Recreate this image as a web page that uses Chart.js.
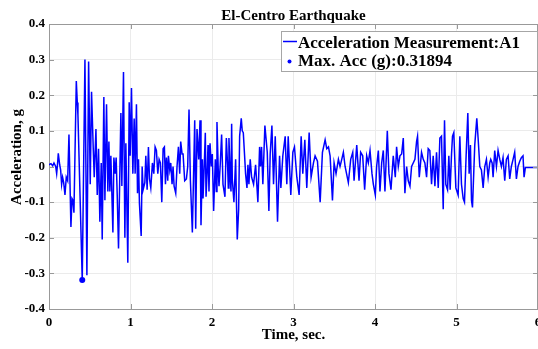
<!DOCTYPE html>
<html><head><meta charset="utf-8">
<script src="https://cdn.jsdelivr.net/npm/chart.js@4.4.0/dist/chart.umd.min.js"></script>
<style>
html,body{margin:0;padding:0;overflow:hidden;background:#fff;width:538px;height:349px}
#wrap{position:absolute;left:0;top:0;width:560px;height:349px}
</style>
</head><body><div id="wrap"><canvas id="c" width="560" height="349"></canvas></div>
<script>
// ---- data ----
const timeSec = [
0.000,0.024,0.045,0.061,0.082,0.094,0.106,0.114,0.131,0.143,0.155,0.167,0.180,0.196,0.212,0.229,0.245,0.269,0.282,0.294,
0.306,0.335,0.347,0.355,0.408,0.441,0.465,0.486,0.506,0.522,0.543,0.555,0.576,0.592,0.608,0.624,0.641,0.653,0.673,0.686,
0.706,0.722,0.735,0.747,0.759,0.784,0.796,0.812,0.824,0.837,0.853,0.882,0.894,0.914,0.931,0.943,0.967,0.984,0.996,1.012,
1.029,1.045,1.057,1.073,1.086,1.098,1.110,1.131,1.143,1.155,1.176,1.188,1.204,1.220,1.233,1.249,1.269,1.286,1.302,1.318,
1.335,1.351,1.367,1.384,1.400,1.416,1.429,1.441,1.457,1.465,1.482,1.494,1.510,1.522,1.535,1.555,1.571,1.588,1.604,1.616,
1.633,1.645,1.665,1.686,1.702,1.718,1.735,1.759,1.788,1.800,1.816,1.837,1.853,1.865,1.882,1.890,1.906,1.918,1.927,1.943,
1.951,1.963,1.976,1.992,2.004,2.020,2.041,2.053,2.061,2.078,2.086,2.102,2.118,2.135,2.159,2.176,2.192,2.200,2.208,2.224,
2.233,2.241,2.249,2.269,2.290,2.302,2.310,2.327,2.339,2.359,2.371,2.384,2.400,2.412,2.429,2.441,2.453,2.469,2.486,2.510,
2.535,2.563,2.584,2.596,2.608,2.624,2.649,2.678,2.698,2.714,2.735,2.755,2.776,2.804,2.829,2.845,2.869,2.898,2.918,2.935,
2.967,2.992,3.012,3.041,3.069,3.094,3.114,3.139,3.163,3.192,3.216,3.245,3.265,3.294,3.327,3.355,3.388,3.408,3.429,3.449,
3.478,3.498,3.522,3.551,3.571,3.592,3.612,3.633,3.673,3.702,3.727,3.743,3.776,3.804,3.824,3.849,3.873,3.898,3.918,3.939,
3.963,3.980,4.004,4.020,4.041,4.061,4.082,4.102,4.122,4.151,4.171,4.196,4.224,4.249,4.265,4.286,4.306,4.327,4.347,4.367,
4.388,4.408,4.429,4.449,4.469,4.490,4.510,4.522,4.543,4.571,4.592,4.612,4.633,4.653,4.673,4.694,4.714,4.735,4.755,4.776,
4.796,4.816,4.837,4.853,4.869,4.890,4.906,4.922,4.939,4.951,4.967,4.992,5.020,5.041,5.061,5.082,5.098,5.118,5.139,5.155,
5.171,5.184,5.196,5.224,5.249,5.265,5.286,5.306,5.327,5.347,5.367,5.388,5.408,5.420,5.437,5.449,5.469,5.490,5.510,5.531,
5.551,5.571,5.592,5.612,5.633,5.653,5.673,5.694,5.714,5.735,5.755,5.776,5.796,5.816,5.829,5.845,6.000
];
const accelG = [
0.005,0.008,0.002,0.01,0.0,-0.02,0.01,0.037,0.005,-0.01,-0.05,-0.03,-0.045,-0.08,-0.03,-0.04,0.09,-0.17,-0.09,-0.095,
-0.13,0.24,0.18,0.145,-0.31894,0.30,-0.305,0.295,-0.05,0.21,0.05,-0.03,0.105,-0.08,0.05,-0.155,0.01,-0.205,0.195,-0.095,
0.175,-0.07,0.07,-0.07,0.03,-0.185,0.025,-0.02,0.025,-0.08,-0.23,0.15,-0.055,0.265,-0.2,0.065,-0.27,0.18,0.03,0.22,
-0.02,0.135,-0.02,0.175,-0.075,0.02,-0.105,-0.195,0.0,-0.065,-0.045,0.03,-0.065,0.055,-0.035,-0.06,0.01,-0.02,0.055,0.045,
-0.02,0.02,0.01,-0.1,0.05,0.055,-0.05,0.025,-0.04,0.03,-0.01,0.01,-0.05,0.0,-0.055,-0.075,0.0,0.055,-0.02,0.07,
0.035,0.035,-0.04,-0.035,0.0,0.16,-0.04,-0.185,0.13,-0.175,0.105,0.02,0.13,-0.165,0.02,-0.09,0.01,0.095,-0.085,0.0,
0.06,-0.07,0.065,0.0,0.035,-0.125,0.02,-0.07,0.125,-0.02,-0.055,0.01,0.09,-0.05,-0.085,0.08,0.0,-0.06,0.08,-0.03,
-0.07,0.12,-0.035,-0.1,0.02,-0.12,-0.205,-0.12,0.085,0.135,0.1,0.095,0.03,-0.02,-0.06,0.005,-0.05,0.02,-0.03,-0.05,
0.005,-0.1,0.055,0.0,0.055,-0.05,0.115,0.04,-0.125,0.035,0.115,-0.05,0.085,-0.155,0.03,-0.06,0.03,0.085,-0.05,0.085,
-0.08,0.04,0.055,-0.03,-0.08,0.085,-0.02,0.075,-0.06,0.095,-0.03,0.01,0.03,0.015,-0.1,0.04,0.075,0.05,0.055,0.03,
-0.095,0.01,-0.02,0.02,0.0,0.02,0.04,0.0,-0.045,0.02,0.04,-0.04,0.06,-0.04,0.04,0.03,-0.065,0.03,0.01,0.045,
-0.02,-0.05,-0.08,0.0,0.045,-0.07,0.01,0.045,-0.07,0.1,-0.02,-0.065,0.03,-0.03,0.055,0.0,0.03,0.035,0.08,-0.075,
0.0,-0.04,-0.055,0.0,0.01,0.02,0.07,0.085,-0.03,0.04,0.02,0.01,-0.03,0.05,0.045,-0.05,0.03,-0.055,0.04,-0.06,
0.08,0.085,-0.12,0.13,-0.05,-0.065,0.03,-0.065,0.035,0.085,0.095,-0.06,-0.08,0.085,-0.05,-0.09,-0.1,0.03,0.15,-0.02,
0.06,-0.095,-0.115,0.06,0.135,0.08,0.0,-0.01,-0.06,0.0,0.02,-0.03,0.01,0.02,0.01,-0.03,0.045,0.0,0.045,0.02,
0.0,0.025,-0.04,0.02,0.03,-0.035,0.0,0.02,0.04,-0.035,0.0,0.015,0.025,0.03,-0.03,-0.003,-0.003
];
const maxTime = [0.408];
const maxAcc = [-0.31894];
const xTickValues = [0,1,2,3,4,5,6];
const yTickValues = [-0.4,-0.3,-0.2,-0.1,0,0.1,0.2,0.3,0.4];
const chartTitle = 'El-Centro Earthquake';
const xTitle = 'Time, sec.';
const yTitle = 'Acceleration, g';
const legendLine = 'Acceleration Measurement:A1';
const legendMax = 'Max. Acc (g):0.31894';

// ---- chart ----
const FONT = '"Liberation Serif", "Times New Roman", serif';
const AXIS = '#999999';
const linePts = timeSec.map((t,i)=>({x:t,y:accelG[i]}));
const maxPts = maxTime.map((t,i)=>({x:t,y:maxAcc[i]}));

const deco = {
  id:'deco',
  afterDraw(chart){
    const ctx = chart.ctx, a = chart.chartArea;
    const xs = chart.scales.x, ys = chart.scales.y;
    ctx.save();
    // box top/right + inward ticks
    ctx.strokeStyle = AXIS; ctx.lineWidth = 1;
    ctx.beginPath();
    ctx.moveTo(a.left, a.top+0.5); ctx.lineTo(a.right, a.top+0.5);
    ctx.moveTo(a.right-0.5, a.top); ctx.lineTo(a.right-0.5, a.bottom);
    yTickValues.forEach(v=>{
      const y = Math.round(ys.getPixelForValue(v))+0.5;
      ctx.moveTo(a.left, y); ctx.lineTo(a.left+5, y);
      ctx.moveTo(a.right, y); ctx.lineTo(a.right-5, y);
    });
    xTickValues.forEach(v=>{
      const x = Math.round(xs.getPixelForValue(v))+0.5;
      ctx.moveTo(x, a.bottom); ctx.lineTo(x, a.bottom-5);
      ctx.moveTo(x, a.top); ctx.lineTo(x, a.top+5);
    });
    ctx.stroke();
    // titles
    ctx.fillStyle = '#000';
    ctx.textAlign = 'center'; ctx.textBaseline = 'alphabetic';
    const cx = (a.left + a.right)/2;
    ctx.font = 'bold 15px ' + FONT;
    ctx.fillText(chartTitle, cx, 20);
    ctx.fillText(xTitle, cx, 339);
    ctx.save();
    ctx.translate(20.5, 157);
    ctx.rotate(-Math.PI/2);
    ctx.fillText(yTitle, 0, 0);
    ctx.restore();
    // legend
    const lx = 281, ly = 31, lw = 256, lh = 40;
    ctx.fillStyle = '#fff';
    ctx.fillRect(lx, ly, lw, lh);
    ctx.strokeStyle = '#a6a6a6';
    ctx.strokeRect(lx+0.5, ly+0.5, lw, lh);
    ctx.strokeStyle = '#0000ff'; ctx.lineWidth = 1.5;
    ctx.beginPath(); ctx.moveTo(283, 41.5); ctx.lineTo(297, 41.5); ctx.stroke();
    ctx.fillStyle = '#0000ff';
    ctx.beginPath(); ctx.arc(289.5, 61.5, 2, 0, Math.PI*2); ctx.fill();
    ctx.fillStyle = '#000';
    ctx.textAlign = 'left';
    ctx.font = 'bold 17px ' + FONT;
    ctx.fillText(legendLine, 298, 47.5);
    ctx.fillText(legendMax, 298, 66);
    ctx.restore();
  }
};

new Chart(document.getElementById('c'), {
  type: 'line',
  data: {
    datasets: [
      {data: linePts, borderColor:'#0000ff', borderWidth:1.5, pointRadius:0, tension:0, fill:false},
      {type:'scatter', data: maxPts, showLine:false, pointRadius:3, pointBackgroundColor:'#0000ff', pointBorderColor:'#0000ff', borderWidth:0}
    ]
  },
  options: {
    responsive:false, animation:false, devicePixelRatio:1,
    layout:{padding:{top:24, right:22, left:0, bottom:0}},
    plugins:{legend:{display:false}, title:{display:false}, tooltip:{enabled:false}},
    scales:{
      x:{type:'linear', min:0, max:6,
        afterBuildTicks(s){ s.ticks = xTickValues.map(v=>({value:v})); },
        afterFit(s){ s.height = 40; },
        ticks:{color:'#000', font:{family:FONT, size:13, weight:'bold'}, padding:6, maxRotation:0, autoSkip:false,
          callback:v=>String(v)},
        grid:{color:'#ebebeb', drawTicks:false},
        border:{display:true, color:AXIS}
      },
      y:{type:'linear', min:-0.4, max:0.4,
        afterBuildTicks(s){ s.ticks = yTickValues.map(v=>({value:v})); },
        afterFit(s){ s.width = 49; },
        ticks:{color:'#000', font:{family:FONT, size:13, weight:'bold'}, padding:4, autoSkip:false,
          callback:v=>{ const r = Math.round(v*10)/10; return r===0 ? '0' : r.toFixed(1); }},
        grid:{color:'#ebebeb', drawTicks:false},
        border:{display:true, color:AXIS}
      }
    }
  },
  plugins:[deco]
});
</script>
</body></html>
